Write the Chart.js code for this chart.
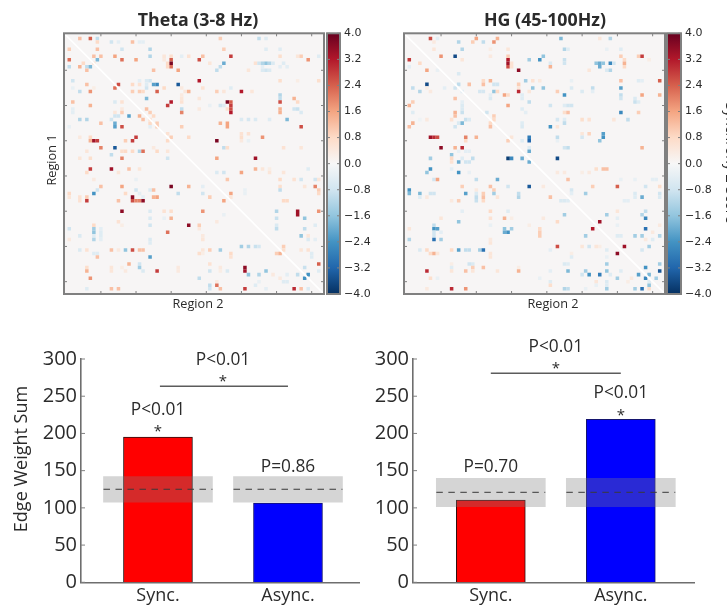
<!DOCTYPE html>
<html>
<head>
<meta charset="utf-8">
<title>Edge weight by band</title>
<script src="https://cdn.jsdelivr.net/npm/chart.js@4"></script>
<style>
  html, body { margin: 0; padding: 0; background: #fff; overflow: hidden; }
  #page { position: relative; width: 727px; height: 606px; overflow: hidden; }
  canvas { position: absolute; }
  canvas.soft { filter: blur(0.6px); }
</style>
</head>
<body>
<div id="page">
  <canvas id="theta-map" class="soft" width="290" height="320" style="left:40px;top:0"></canvas>
  <canvas id="theta-bar" class="soft" width="60" height="320" style="left:326px;top:0"></canvas>
  <canvas id="hg-map" class="soft" width="280" height="320" style="left:390px;top:0"></canvas>
  <canvas id="hg-bar" class="soft" width="61" height="320" style="left:666px;top:0"></canvas>
  <canvas id="theta-sum" class="soft" width="360" height="276" style="left:0;top:330px"></canvas>
  <canvas id="hg-sum" class="soft" width="367" height="276" style="left:360px;top:330px"></canvas>
</div>
<script>
const REGION_COUNT = 74;
const REGION_TICKS = [10, 20, 30, 40, 50, 60, 70];
const COLORBAR_TICKS = [4, 3.2, 2.4, 1.6, 0.8, 0, -0.8, -1.6, -2.4, -3.2, -4];
const COLORMAP = ["#053061", "#2166ac", "#4393c3", "#92c5de", "#d1e5f0", "#f7f7f7", "#fddbc7", "#f4a582", "#d6604d", "#b2182b", "#67001f"];
const DIAGONAL = [-0.5, 73.5];

// [row, column, z-score]
const thetaCells = [
  [1,4,1.2],[1,7,2.4],[1,9,-1],[1,44,1],[1,55,-1],[1,57,-0.5],
  [2,9,0.8],[2,13,-0.8],[2,15,-0.4],[2,19,1.2],[2,21,-0.4],[2,22,-0.4],
  [4,1,1],[4,9,1.2],[4,16,-0.8],[4,24,-1.2],[4,45,1],[4,57,-0.5],[4,61,-0.5],
  [6,8,1.2],[6,10,1.2],[6,14,1.6],[6,24,-1.2],[6,28,0.5],[6,30,0.7],[6,33,-0.4],[6,35,0.6],[6,39,1.2],[6,47,2.8],[6,61,0.7],[6,66,0.5],[6,67,1],[6,72,-0.5],
  [7,1,2.2],[7,9,-1.8],[7,16,2.2],[7,20,1.6],[7,28,0.4],[7,30,2.4],[7,38,2.6],[7,69,1.8],
  [8,5,0.8],[8,8,0.5],[8,29,0.8],[8,30,3.8],[8,41,0.5],[8,45,-2],[8,54,0.6],[8,55,-0.8],[8,56,-1.2],[8,57,-1.6],[8,58,-1.2],[8,59,-0.6],[8,62,-0.5],
  [9,1,-1],[9,4,1.4],[9,6,-1],[9,7,-1.8],[9,29,0.8],[9,30,2.2],[9,44,-1],[9,56,-0.4],[9,61,-0.4],[9,63,-0.4],
  [10,6,1.2],[10,25,1.2],[10,32,1.6],[10,43,-1],[10,52,0.5],[10,56,-0.6],[10,57,-0.8],[10,58,-0.6],
  [13,2,-0.8],[13,21,-0.4],[13,23,-0.6],[13,24,-0.8],[13,38,3.2],[13,61,0.7],[13,66,0.3],[13,72,0.7],
  [14,6,1.2],[14,15,2.6],[14,19,0.8],[14,21,0.6],[14,23,-0.5],[14,25,-2.2],[14,26,-2.6],[14,32,-3.4],
  [15,2,-0.3],[15,8,0.3],[15,14,2.2],[15,23,-0.8],[15,28,0.8],[15,33,0.4],[15,39,0.6],[15,47,-0.5],
  [16,4,-1],[16,7,1.8],[16,19,1],[16,21,1],[16,22,0.8],[16,26,2.4],[16,34,0.5],[16,35,1.4],[16,43,1],[16,45,0.5],[16,50,3.2],[16,53,0.5],
  [17,33,0.4],[17,61,-1.2],
  [18,23,-1.8],[18,33,0.5],[18,38,0.5],[18,61,-1],[18,65,1.4],
  [19,2,1.2],[19,14,-0.6],[19,16,0.6],[19,30,3.2],[19,33,0.6],[19,46,3.8],[19,47,2.4],[19,61,2.6],[19,66,0.8],
  [20,7,1.4],[20,29,2.8],[20,41,-0.3],[20,44,-0.8],[20,45,-0.5],[20,47,2.8],
  [21,2,-0.4],[21,16,0.4],[21,23,1.2],[21,33,-1],[21,38,0.4],[21,46,0.6],[21,47,2.6],[21,61,1.4],[21,65,-0.8],[21,66,-0.9],
  [22,2,-0.4],[22,14,0.5],[22,16,1],[22,24,1],[22,33,2],[22,47,3.2],[22,61,1.4],[22,67,-0.6],
  [23,14,-0.8],[23,15,-0.8],[23,18,-2.2],[23,21,1.4],[23,25,0.8],
  [24,4,-1.2],[24,6,-1.2],[24,13,-0.8],[24,22,1.2],[24,24,0.6],[24,50,-0.6],[24,52,-0.7],[24,54,-0.6],[24,58,-0.5],[24,63,-1.8],
  [25,10,1.2],[25,14,-2],[25,24,0.8],[25,26,1],[25,44,1.4],[25,46,1.6],
  [26,1,-0.3],[26,14,-2.2],[26,16,2.6],[26,24,-0.4],[26,26,1],[26,33,1],[26,46,1.6],[26,67,2.6],
  [28,29,0.6],[28,50,0.6],[28,52,0.6],
  [29,4,0.4],[29,7,0.8],[29,20,2.8],[29,30,1],[29,35,0.8],[29,50,0.7],[29,56,1.8],
  [30,7,1.4],[30,8,3.4],[30,9,2.8],[30,17,1],[30,19,2.8],[30,29,0.8],[30,43,3.8],[30,50,0.4],[30,52,-0.3],
  [32,10,2],[32,14,-3.4],[32,25,0.4],[32,45,-1],[32,46,0.7],[32,62,0.6],[32,67,0.5],
  [33,6,0.5],[33,16,0.7],[33,17,0.8],[33,19,0.8],[33,21,-1.2],[33,22,2.2],[33,26,0.8],[33,29,0.5],
  [34,13,-1],
  [35,4,0.5],[35,7,0.7],[35,16,2],[35,29,-0.8],[35,43,1.6],[35,54,3.4],
  [38,7,2.8],[38,13,3.4],[38,18,1.2],[38,21,0.5],[38,54,1.4],[38,56,0.5],[38,58,0.3],[38,69,-0.5],
  [39,6,0.8],[39,15,0.5],[39,43,-0.6],[39,45,-0.8],[39,50,1.6],[39,58,0.5],[39,62,0.5],
  [41,8,0.4],[41,20,-0.3],[41,46,1.1],[41,61,0.8],[41,65,0.6],[41,67,-0.8],[41,71,-0.8],[41,72,0.5],
  [43,10,1.2],[43,16,1.6],[43,30,3.8],[43,35,1.4],[43,39,-0.4],[43,61,0.7],[43,68,0.5],[43,71,2],
  [44,9,-0.8],[44,20,-0.8],[44,24,-0.6],[44,25,1.2],[44,51,-0.3],[44,61,-1],[44,72,1],
  [45,1,0.8],[45,8,-2.4],[45,17,0.8],[45,21,-0.4],[45,32,-1],[45,39,-0.8],[45,47,1.6],[45,51,-0.3],[45,72,0.8],
  [46,1,0.5],[46,4,0.6],[46,6,1],[46,19,3.6],[46,22,-0.4],[46,25,1.4],[46,26,1.6],[46,41,1],[46,47,0.5],
  [47,4,0.6],[47,6,2.8],[47,15,1.2],[47,19,2.6],[47,20,2],[47,21,2],[47,22,3.6],[47,45,1.6],[47,62,0.8],[47,63,0.8],
  [50,16,3.6],[50,24,-0.6],[50,28,0.6],[50,30,0.7],[50,39,1.8],[50,60,-1.2],[50,66,3.4],[50,72,1.8],
  [51,45,-0.3],[51,66,3.4],
  [52,24,-0.6],[52,28,-0.3],[52,30,1.4],[52,60,-0.9],[52,68,-1.6],
  [53,15,0.6],[53,43,0.4],
  [54,8,0.8],[54,16,0.3],[54,24,-0.8],[54,35,3.6],[54,38,1],[54,60,-0.6],[54,71,-0.5],
  [55,1,-0.8],[55,8,-1.4],[55,10,-0.4],[55,38,0.4],[55,60,-1],[55,68,-1],
  [56,8,-1.6],[56,10,-0.5],[56,29,2.2],
  [57,4,-0.6],[57,8,-0.5],[57,10,-0.5],[57,39,0.4],[57,67,-1.6],[57,69,0.5],
  [58,1,0.4],[58,8,-1.2],[58,10,-0.4],[58,24,-0.6],[58,39,0.5],[58,69,-0.6],[58,71,-0.4],
  [59,24,-0.5],
  [60,50,-1.4],[60,52,-1.2],[60,54,-0.9],[60,55,-0.7],[60,62,1],
  [61,4,-0.6],[61,6,0.6],[61,13,1.2],[61,15,0.4],[61,17,-1.6],[61,19,2.6],[61,21,1.2],[61,22,1.2],[61,39,0.5],[61,41,1],[61,44,-1.4],[61,62,0.7],[61,67,0.5],[61,69,0.6],
  [62,8,-0.5],[62,9,-0.5],[62,38,0.7],[62,39,0.3],[62,47,0.8],[62,60,1],[62,61,1.4],[62,70,-0.5],
  [63,9,1.2],[63,24,-2.2],[63,47,0.6],[63,70,-0.5],
  [65,18,1.4],[65,21,-0.8],[65,41,0.6],[65,72,2.4],
  [66,6,0.7],[66,13,0.5],[66,16,0.3],[66,21,-1.4],[66,32,0.4],[66,44,0.4],[66,51,3.6],[66,68,-0.9],
  [67,6,1.4],[67,13,0.5],[67,17,0.4],[67,22,-0.6],[67,26,2.8],[67,32,0.4],[67,41,-0.8],[67,44,0.3],[67,46,-0.6],[67,51,3.4],[67,57,-1.6],[67,72,-0.5],
  [68,52,-1.6],[68,55,-1.2],[68,59,0.4],[68,63,-0.4],[68,66,-1],[68,69,-2.4],
  [69,7,1.8],[69,38,-1],[69,61,0.4],[69,68,-2.4],
  [70,43,0.4],[70,55,-0.3],[70,62,-0.5],[70,63,-0.5],
  [71,41,-1],[71,43,2.2],[71,54,-0.5],
  [72,6,-0.5],[72,13,1.2],[72,15,1.2],[72,41,-0.8],[72,44,1.2],[72,51,2.8],[72,57,-0.4],[72,65,3],[72,67,1.2],[72,69,-0.6],
];

const hgCells = [
  [1,7,2.6],[1,9,-0.4],[1,20,1.6],[1,26,1.4],[1,44,-1.8],[1,55,0.5],[1,58,-1.2],
  [2,8,0.4],[2,15,-1.2],[2,19,1],[2,22,-1],[2,25,1.8],
  [4,8,0.5],[4,16,-1.2],[4,24,0.3],[4,29,0.5],[4,45,-1.2],[4,46,-0.5],[4,57,-0.3],[4,61,-0.5],
  [6,10,1.8],[6,14,-3.6],[6,24,0.4],[6,29,1],[6,39,-1.6],[6,61,1],[6,66,1],[6,67,2.8],
  [7,1,2.8],[7,16,0.5],[7,29,3.2],[7,35,-1.4],[7,38,-2.4],[7,45,-0.9],[7,62,0.8],[7,69,0.3],
  [8,4,0.8],[8,29,3.4],[8,30,0.6],[8,41,-0.6],[8,45,-0.8],[8,54,-1.6],[8,55,-2],[8,56,-1.6],[8,58,-2.6],[8,59,-0.8],[8,62,1.4],
  [9,1,-0.4],[9,29,2.6],[9,30,0.6],[9,41,1.4],[9,55,-2],[9,62,0.8],
  [10,6,1.6],[10,9,-0.3],[10,32,3.6],[10,52,0.5],[10,57,-0.6],[10,58,-1.2],
  [11,15,-0.6],
  [13,22,0.8],[13,24,1.4],[13,34,-1.4],[13,36,0.6],[13,38,0.4],[13,47,-0.3],[13,61,1.2],[13,66,-0.5],[13,67,-0.4],[13,72,2.4],
  [14,6,-3.6],[14,15,-1],[14,18,1.2],[14,22,1.2],[14,25,-0.8],[14,26,-0.8],[14,32,1],
  [15,2,-1],[15,6,0.3],[15,11,-0.4],[15,14,-0.8],[15,32,0.5],[15,36,-1.6],[15,39,-1.6],[15,47,-0.6],[15,53,-1],[15,61,-2.2],
  [16,4,-1.2],[16,7,0.4],[16,16,-0.4],[16,21,-0.7],[16,22,-0.7],[16,25,-1.6],[16,26,0.8],[16,32,3],[16,35,0.5],[16,43,1],[16,50,-0.6],[16,53,-0.4],
  [17,24,-0.4],[17,28,1.6],[17,29,0.8],[17,33,-0.5],[17,45,-2.4],[17,61,-1],[17,67,1.6],[17,72,1.4],
  [18,14,1.2],[18,24,-0.6],[18,33,-0.5],[18,61,-0.8],[18,65,-0.6],
  [19,2,1],[19,16,-0.4],[19,35,-1],[19,65,-0.9],[19,66,-0.5],
  [20,1,1.4],[20,16,-0.6],[20,29,1.6],[20,41,-0.8],[20,45,-0.5],[20,46,-0.8],[20,47,-0.8],
  [21,16,-0.6],[21,33,-0.5],
  [22,2,-0.5],[22,14,1.4],[22,16,-0.9],[22,23,-0.8],[22,34,-0.4],[22,45,0.7],[22,46,1.2],[22,61,-2.6],[22,66,1],
  [23,14,1.2],[23,25,1],
  [24,4,-0.2],[24,6,0.4],[24,13,0.6],[24,17,-0.9],[24,18,-0.6],[24,25,0.8],[24,43,-0.7],[24,45,-0.5],[24,50,0.7],[24,52,0.6],[24,59,0.5],[24,63,-1],
  [25,2,1.4],[25,15,-0.6],[25,16,-1.8],[25,24,0.8],[25,33,-0.5],[25,45,-1],
  [26,1,1.2],[26,14,-0.8],[26,24,1.2],[26,33,-0.6],[26,41,-2.4],[26,43,0.5],
  [28,50,0.5],[28,52,0.9],[28,56,-2.2],
  [29,7,3.4],[29,8,3],[29,9,2.6],[29,17,2],[29,20,1.4],[29,30,0.5],[29,35,-2.8],[29,43,-1],[29,50,-0.7],[29,56,-2.4],
  [30,17,0.8],[30,29,1],[30,33,-0.5],[30,35,-3.2],[30,43,-0.3],[30,55,-1.6],
  [32,10,3.6],[32,14,1.4],[32,16,3],[32,35,-0.5],[32,45,-0.8],[32,46,-1],[32,67,1.4],
  [33,15,-0.3],[33,17,-0.4],[33,18,-0.4],[33,35,-2],
  [34,13,-1.6],
  [35,7,-1.4],[35,13,0.8],[35,16,-0.5],[35,19,-1],[35,29,-3.8],[35,30,-2.6],[35,33,-2],[35,43,-3.6],
  [36,13,0.6],[36,15,-2],[36,17,-0.8],[36,18,-0.8],[36,35,-2],
  [38,7,-2.4],[38,13,-0.4],[38,54,0.7],[38,56,1.2],[38,57,1.2],
  [39,6,-1.6],[39,15,-2.4],[39,18,-0.3],[39,43,0.4],[39,45,0.4],[39,50,0.3],[39,52,0.4],
  [41,8,-0.8],[41,9,1.6],[41,20,-1],[41,26,-2],[41,46,1.2],[41,61,-0.3],[41,65,-0.3],[41,70,-0.4],[41,71,-0.4],
  [43,16,1],[43,24,1.2],[43,29,-0.8],[43,35,-3.4],[43,39,0.4],[43,53,1],[43,60,2.4],[43,68,-0.8],[43,72,0.7],
  [44,1,-2.4],[44,20,0.4],[44,25,1],[44,47,-0.7],
  [45,1,-1.8],[45,4,-1.8],[45,7,-0.8],[45,8,-0.8],[45,17,-2.2],[45,20,-0.6],[45,22,1],[45,25,-1.4],[45,32,-1],[45,47,-0.4],[45,51,-1.4],[45,65,-0.6],[45,72,-0.8],
  [46,4,-0.5],[46,6,0.4],[46,20,-1],[46,22,1.2],[46,26,0.5],[46,32,-1.2],[46,41,1.2],[46,65,-0.5],[46,67,-2],[46,72,-0.6],
  [47,13,0.4],[47,15,1],[47,20,-0.9],[47,22,0.8],[47,44,-0.6],[47,45,-0.6],[47,46,-0.5],[47,62,-0.4],[47,63,-0.4],
  [50,16,-0.4],[50,24,0.8],[50,29,-0.5],[50,60,0.5],[50,68,-1],
  [51,45,-1.4],[51,57,-1.4],[51,67,-1.2],
  [52,10,0.5],[52,24,0.6],[52,28,1.4],[52,30,0.3],[52,39,0.4],[52,60,-0.4],[52,68,-2.6],
  [53,15,-1.6],[53,43,0.8],[53,55,3.4],
  [54,8,-1],[54,24,-0.3],[54,35,0.3],[54,60,-0.3],[54,72,0.4],
  [55,1,0.5],[55,8,-2.4],[55,9,-2.2],[55,28,-1.6],[55,30,-1.4],[55,38,0.8],[55,53,3.2],[55,68,-3],
  [56,8,-0.8],[56,10,-0.4],[56,28,-2],[56,29,-2.4],[56,38,1],[56,70,0.4],
  [57,8,-0.8],[57,38,1],[57,51,-1.4],[57,60,-0.5],[57,61,-0.5],[57,65,-1.4],[57,67,-1.4],[57,72,-1.2],
  [58,1,-1.2],[58,8,-3],[58,10,-1.4],[58,24,0.4],[58,68,0.4],[58,70,-0.5],
  [59,24,0.5],
  [60,43,2.6],[60,50,0.5],[60,52,-0.8],[60,54,0.5],[60,55,0.3],[60,62,3.4],[60,69,-1.4],
  [61,4,-0.6],[61,6,0.8],[61,13,0.8],[61,15,-2.2],[61,17,-1],[61,18,-1],[61,21,-1.4],[61,22,-3],[61,41,-0.4],[61,57,-0.5],[61,67,-0.7],
  [62,7,0.8],[62,8,1.4],[62,9,0.5],[62,24,0.5],[62,47,0.3],[62,60,3.6],
  [63,24,0.5],[63,47,-0.5],[63,57,-0.3],
  [65,13,0.3],[65,18,-0.8],[65,19,-0.6],[65,45,-0.6],[65,46,-0.5],[65,57,-1.4],[65,72,-1.4],
  [66,13,-0.5],[66,19,1],[66,22,1.2],[66,32,0.3],[66,68,-2.4],
  [67,6,3],[67,13,0.5],[67,17,1.2],[67,19,0.5],[67,26,0.5],[67,32,1.4],[67,41,-0.4],[67,46,-1.8],[67,51,-1.4],[67,57,-1.6],[67,61,-0.5],[67,72,-3.4],
  [68,50,-0.8],[68,52,-2.4],[68,55,-2.8],[68,58,-0.5],[68,66,-2.2],[68,69,-1.8],
  [69,7,0.7],[69,9,-0.3],[69,38,-0.3],[69,60,-1.4],[69,64,0.4],[69,68,-2.6],[69,71,-1.4],
  [70,41,-0.5],[70,54,0.5],[70,57,-0.6],[70,63,0.3],[70,69,-0.5],
  [71,41,0.7],[71,54,-0.3],[71,57,-0.5],[71,69,-1.6],
  [72,6,0.4],[72,13,3],[72,17,1.8],[72,45,-1.2],[72,46,-1],[72,51,-0.3],[72,57,-1.4],[72,65,-1.4],[72,67,-3],[72,69,0.7],
];

const barLabels = ["Sync.", "Async."];
const barPositions = [1, 2];
const barColors = ["#ff0000", "#0000ff"];
const barEdges = ["#2a1010", "#14146e"];
const sumTicks = [0, 50, 100, 150, 200, 250, 300];

const thetaSums = [195.2, 106.5];
const thetaNullLow = 107.5;
const thetaNullHigh = 142;
const thetaNullMean = 125;

const hgSums = [110.6, 219];
const hgNullLow = 101.6;
const hgNullHigh = 139.7;
const hgNullMean = 120.9;

const TEXT_COLOR = "#2b2b2b";
const FRAME_COLOR = "#808080";
const UI_FONT = '"Open Sans", sans-serif';

function hexToRgb(hex) {
  return [1, 3, 5].map((i) => parseInt(hex.slice(i, i + 2), 16));
}

function colorFor(value) {
  const pos = ((Math.max(-4, Math.min(4, value)) + 4) / 8) * (COLORMAP.length - 1);
  const low = Math.min(Math.floor(pos), COLORMAP.length - 2);
  const a = hexToRgb(COLORMAP[low]);
  const b = hexToRgb(COLORMAP[low + 1]);
  const t = pos - low;
  return `rgb(${a.map((v, i) => Math.round(v + (b[i] - v) * t)).join(",")})`;
}

function drawLabel(ctx, item) {
  ctx.save();
  ctx.translate(item.x, item.y);
  if (item.rotate) ctx.rotate((item.rotate * Math.PI) / 180);
  ctx.font = item.font;
  ctx.fillStyle = TEXT_COLOR;
  ctx.textAlign = "center";
  ctx.textBaseline = item.baseline || "middle";
  ctx.fillText(item.text, 0, 0);
  ctx.restore();
}

// fills the plot background, then draws the frame, inward ticks and free text
const decor = {
  id: "decor",
  beforeDatasetsDraw(chart, args, opts) {
    if (!opts.fill) return;
    const { left, top, width, height } = chart.chartArea;
    chart.ctx.fillStyle = opts.fill;
    chart.ctx.fillRect(left, top, width, height);
  },
  afterDraw(chart, args, opts) {
    const { ctx, chartArea: area, scales } = chart;
    ctx.save();
    ctx.strokeStyle = FRAME_COLOR;
    if (opts.frame) {
      ctx.lineWidth = 2;
      ctx.strokeRect(area.left, area.top, area.width, area.height);
    }
    ctx.lineWidth = 1;
    ctx.beginPath();
    (opts.xTicks || []).forEach((tick) => {
      const x = scales.x.getPixelForValue(tick);
      ctx.moveTo(x, area.bottom);
      ctx.lineTo(x, area.bottom - 3);
      ctx.moveTo(x, area.top);
      ctx.lineTo(x, area.top + 3);
    });
    (opts.yTicks || []).forEach((tick) => {
      const y = scales.y.getPixelForValue(tick);
      if (opts.leftTicks) {
        ctx.moveTo(area.left, y);
        ctx.lineTo(area.left + opts.leftTicks, y);
      }
      if (opts.rightTicks) {
        ctx.moveTo(area.right, y);
        ctx.lineTo(area.right - opts.rightTicks, y);
      }
    });
    ctx.stroke();
    ctx.restore();
    (opts.labels || []).forEach((item) => drawLabel(ctx, item));
    (opts.valueLabels || []).forEach((item) =>
      drawLabel(ctx, { ...item, x: scales.x.getPixelForValue(item.x), y: scales.y.getPixelForValue(item.y) }),
    );
  },
};

function renderMap(id, cells, padding, labels) {
  new Chart(document.getElementById(id), {
    type: "scatter",
    data: {
      datasets: [
        {
          type: "line",
          data: DIAGONAL.map((v) => ({ x: v, y: v })),
          borderColor: "#ffffff",
          borderWidth: 1.6,
          pointRadius: 0,
          order: 0,
        },
        {
          data: cells.map(([row, col, value]) => ({ x: col, y: row, v: value })),
          pointStyle: "rect",
          borderWidth: 0,
          backgroundColor: (ctx) => colorFor(ctx.raw ? ctx.raw.v : 0),
          pointRadius: (ctx) => {
            const { x } = ctx.chart.scales;
            return ((x.getPixelForValue(1) - x.getPixelForValue(0)) / 2) * Math.SQRT2;
          },
          order: 1,
        },
      ],
    },
    options: {
      responsive: false,
      animation: false,
      events: [],
      layout: { padding },
      plugins: {
        legend: { display: false },
        tooltip: { enabled: false },
        decor: { fill: "#f7f5f5", frame: true, xTicks: REGION_TICKS, yTicks: REGION_TICKS, leftTicks: 3, rightTicks: 3, labels },
      },
      scales: {
        x: { type: "linear", display: false, min: -0.5, max: REGION_COUNT - 0.5 },
        y: { type: "linear", display: false, reverse: true, min: -0.5, max: REGION_COUNT - 0.5 },
      },
    },
    plugins: [decor],
  });
}

function renderColorbar(id, axisWidth, labels) {
  new Chart(document.getElementById(id), {
    type: "bar",
    data: {
      labels: [""],
      datasets: [
        {
          data: [[COLORBAR_TICKS[COLORBAR_TICKS.length - 1], COLORBAR_TICKS[0]]],
          barPercentage: 1,
          categoryPercentage: 1,
          backgroundColor: (ctx) => {
            const { chartArea, ctx: c } = ctx.chart;
            if (!chartArea) return COLORMAP[5];
            const grad = c.createLinearGradient(0, chartArea.bottom, 0, chartArea.top);
            COLORMAP.forEach((color, i) => grad.addColorStop(i / (COLORMAP.length - 1), color));
            return grad;
          },
        },
      ],
    },
    options: {
      responsive: false,
      animation: false,
      events: [],
      layout: { padding: { left: 1, top: 33.3, bottom: 26, right: 0 } },
      plugins: {
        legend: { display: false },
        tooltip: { enabled: false },
        decor: { frame: true, yTicks: COLORBAR_TICKS, leftTicks: 3, rightTicks: 3, labels },
      },
      scales: {
        x: { display: false },
        y: {
          position: "right",
          min: -4,
          max: 4,
          grid: { display: false, drawTicks: false },
          border: { display: false },
          afterBuildTicks: (axis) => {
            axis.ticks = COLORBAR_TICKS.map((value) => ({ value }));
          },
          afterFit: (axis) => {
            axis.width = axisWidth;
          },
          ticks: {
            padding: 4,
            color: TEXT_COLOR,
            font: { family: "DejaVu Sans", size: 11 },
            callback: (value) => value.toFixed(1).replace("-", "\u2212"),
          },
        },
      },
    },
    plugins: [decor],
  });
}

function renderSums(id, sums, nullLow, nullHigh, nullMean, geometry, labels, valueLabels, bracketY) {
  const band = barPositions.map((x) => ({ x, y: [nullLow, nullHigh] }));
  const dashed = barPositions.map((x) => ({
    type: "line",
    data: [
      { x: x - 0.419, y: nullMean },
      { x: x + 0.419, y: nullMean },
    ],
    borderColor: "#3a3a3a",
    borderWidth: 1,
    borderDash: [6.5, 5.5],
    pointRadius: 0,
    order: 0,
  }));
  new Chart(document.getElementById(id), {
    type: "bar",
    data: {
      datasets: [
        ...dashed,
        {
          type: "line",
          data: [
            { x: geometry.bracket[0], y: bracketY },
            { x: geometry.bracket[1], y: bracketY },
          ],
          borderColor: "#5c5c5c",
          borderWidth: 1.4,
          pointRadius: 0,
          order: 0,
        },
        { data: band, backgroundColor: "rgba(128,128,128,0.33)", barThickness: 109, grouped: false, order: 1 },
        {
          data: barPositions.map((x, i) => ({ x, y: sums[i] })),
          backgroundColor: barColors,
          borderColor: barEdges,
          borderWidth: 1,
          barThickness: 69,
          grouped: false,
          order: 2,
        },
      ],
    },
    options: {
      responsive: false,
      animation: false,
      events: [],
      layout: { padding: { top: 29, right: geometry.right, left: 0, bottom: 0 } },
      plugins: {
        legend: { display: false },
        tooltip: { enabled: false },
        decor: { yTicks: sumTicks, leftTicks: 4, labels, valueLabels },
      },
      scales: {
        x: {
          type: "linear",
          offset: false,
          min: geometry.xMin,
          max: geometry.xMax,
          grid: { display: false, drawTicks: false },
          border: { color: "#6e6e6e", width: 1.6 },
          afterBuildTicks: (axis) => {
            axis.ticks = barPositions.map((value) => ({ value }));
          },
          afterFit: (axis) => {
            axis.height = 23.7;
          },
          ticks: {
            padding: 3,
            maxRotation: 0,
            autoSkip: false,
            color: TEXT_COLOR,
            font: { family: "Open Sans", size: 18 },
            callback: (value) => barLabels[barPositions.indexOf(value)],
          },
        },
        y: {
          min: 0,
          max: 300,
          grid: { display: false, drawTicks: false },
          border: { color: "#6e6e6e", width: 1.6 },
          afterBuildTicks: (axis) => {
            axis.ticks = sumTicks.map((value) => ({ value }));
          },
          afterFit: (axis) => {
            axis.width = geometry.yWidth;
          },
          ticks: { padding: 4, color: TEXT_COLOR, font: { family: "Open Sans", size: 20 } },
        },
      },
    },
    plugins: [decor],
  });
}

function pLabel(text, x, y) {
  return { text, x, y, font: `17.3px ${UI_FONT}` };
}

function starLabel(x, y) {
  return { text: "*", x, y, font: `15px ${UI_FONT}` };
}

renderMap("theta-map", thetaCells, { left: 24, top: 33.3, right: 6, bottom: 26 }, [
  { text: "Theta (3-8 Hz)", x: 158, y: 21, font: `bold 17.8px ${UI_FONT}` },
  { text: "Region 2", x: 158, y: 304, font: `12.7px ${UI_FONT}` },
  { text: "Region 1", x: 12, y: 160, rotate: -90, font: `12.7px ${UI_FONT}` },
]);
renderColorbar("theta-bar", 46, []);
renderMap("hg-map", hgCells, { left: 14, top: 33.3, right: 5, bottom: 26 }, [
  { text: "HG (45-100Hz)", x: 155, y: 21, font: `bold 17.8px ${UI_FONT}` },
  { text: "Region 2", x: 163, y: 304, font: `12.7px ${UI_FONT}` },
]);
renderColorbar("hg-bar", 46, [
  { text: "Synchrony Z-Score", x: 60, y: 163, rotate: 90, baseline: "alphabetic", font: `14px ${UI_FONT}` },
]);

renderSums(
  "theta-sum",
  thetaSums,
  thetaNullLow,
  thetaNullHigh,
  thetaNullMean,
  { xMin: 0.408, xMax: 2.554, yWidth: 81, right: 0, bracket: [1.015, 2] },
  [{ text: "Edge Weight Sum", x: 22, y: 129, rotate: -90, font: `18px ${UI_FONT}` }],
  [
    pLabel("P<0.01", 1.5, 298.6),
    starLabel(1.5, 269),
    pLabel("P<0.01", 1, 231.5),
    starLabel(1, 202),
    pLabel("P=0.86", 2, 155),
  ],
  263.3,
);
renderSums(
  "hg-sum",
  hgSums,
  hgNullLow,
  hgNullHigh,
  hgNullMean,
  { xMin: 0.4015, xMax: 2.563, yWidth: 53, right: 33, bracket: [1, 2] },
  [],
  [
    pLabel("P<0.01", 1.5, 316.5),
    starLabel(1.5, 287),
    pLabel("P<0.01", 2, 254),
    starLabel(2, 224),
    pLabel("P=0.70", 1, 154.5),
  ],
  280.8,
);
</script>
</body>
</html>
